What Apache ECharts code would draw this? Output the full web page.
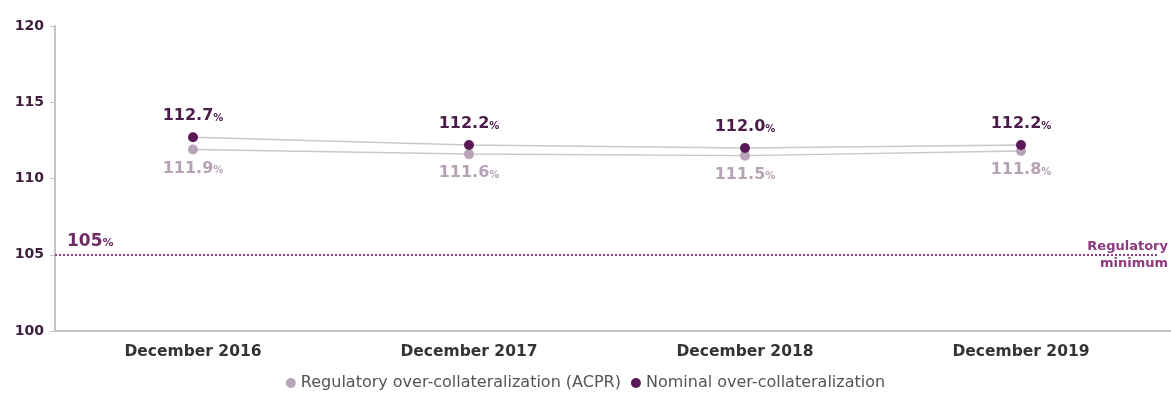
<!DOCTYPE html>
<html>
<head>
<meta charset="utf-8">
<script src="https://cdn.jsdelivr.net/npm/echarts@6/dist/echarts.min.js"></script>
<style>html,body{margin:0;padding:0;background:#fff}#c{width:1171px;height:401px}</style>
</head>
<body>
<div id="c"></div>
<script>
const categories = ['December 2016', 'December 2017', 'December 2018', 'December 2019'];
const regulatory = [111.9, 111.6, 111.5, 111.8];
const nominal = [112.7, 112.2, 112.0, 112.2];
const regulatoryMin = 105;
const yTicks = [100, 105, 110, 115, 120];
const seriesNames = ['Regulatory over-collateralization (ACPR)', 'Nominal over-collateralization'];

const FONT = 'DejaVu Sans';
const chart = echarts.init(document.getElementById('c'));
function pctLabel(color) {
  return {
    show: true,
    formatter: p => '{v|' + p.value.toFixed(1) + '}{p|%}',
    rich: {
      v: { fontFamily: FONT, fontWeight: 'bold', fontSize: 16, color: color },
      p: { fontFamily: FONT, fontWeight: 'bold', fontSize: 10, color: color, padding: [4, 0, 0, 0] }
    }
  };
}
chart.setOption({
  animation: false,
  grid: { left: 55, right: 12, top: 26, bottom: 70 },
  legend: {
    bottom: 5,
    left: 'center',
    itemWidth: 10, itemHeight: 10, itemGap: 10,
    icon: 'circle',
    textStyle: { fontFamily: FONT, fontSize: 16, color: '#555' },
    data: seriesNames
  },
  xAxis: {
    type: 'category',
    data: categories,
    axisLine: { lineStyle: { color: '#c4c4c4', width: 2 } },
    axisTick: { alignWithLabel: true, inside: true, length: 6, lineStyle: { color: '#c4c4c4' } },
    axisLabel: { fontFamily: FONT, fontWeight: 'bold', fontSize: 15.5, color: '#333', margin: 13 }
  },
  yAxis: {
    type: 'value',
    min: 100, max: 120, interval: 5,
    splitLine: { show: false },
    axisLine: { show: true, lineStyle: { color: '#c4c4c4', width: 2 } },
    axisTick: { show: true, length: 5, lineStyle: { color: '#c4c4c4' } },
    axisLabel: {
      fontFamily: FONT, fontWeight: 'bold', fontSize: 14, color: '#3d1f3d', margin: 11,
      formatter: v => yTicks.includes(v) ? String(v) : ''
    }
  },
  series: [
    {
      name: seriesNames[0],
      type: 'line',
      data: regulatory,
      symbol: 'circle', symbolSize: 10,
      itemStyle: { color: '#b9a3b8' },
      lineStyle: { color: '#c8c8c8', width: 1.5 },
      label: Object.assign(pctLabel('#b5a2b4'), { position: 'bottom', distance: 6 }),
      z: 2,
      markLine: {
        silent: true,
        symbol: 'none',
        lineStyle: { color: '#8e3a80', type: 'dotted', width: 2 },
        data: [
          { yAxis: regulatoryMin, label: { position: 'insideStartTop', formatter: '{v|105}{p|%}',
              distance: [12, 5],
              rich: { v: { fontFamily: FONT, fontWeight: 'bold', fontSize: 17, color: '#6e2a64' },
                      p: { fontFamily: FONT, fontWeight: 'bold', fontSize: 11, color: '#6e2a64', padding: [4, 0, 0, 0] } } } },
          { yAxis: regulatoryMin, label: { position: 'insideEndTop', formatter: 'Regulatory', distance: [-9, 2],
              fontFamily: FONT, fontWeight: 'bold', fontSize: 13, color: '#8e3a80' } },
          { yAxis: regulatoryMin, label: { position: 'insideEndBottom', formatter: 'minimum', distance: [-9, 2],
              fontFamily: FONT, fontWeight: 'bold', fontSize: 13, color: '#8e3a80' } }
        ]
      }
    },
    {
      name: seriesNames[1],
      type: 'line',
      data: nominal,
      symbol: 'circle', symbolSize: 10,
      itemStyle: { color: '#5a1a58' },
      lineStyle: { color: '#c8c8c8', width: 1.5 },
      label: Object.assign(pctLabel('#4a1c48'), { position: 'top', distance: 8 }),
      z: 3
    }
  ]
});
// extend the x axis line to the right edge as in the reference
const yBase = chart.convertToPixel({ yAxisIndex: 0 }, 100);
chart.setOption({
  graphic: [{ type: 'line', shape: { x1: 1159, y1: yBase, x2: 1171, y2: yBase },
              style: { stroke: '#c4c4c4', lineWidth: 2 }, silent: true }]
});
</script>
</body>
</html>
